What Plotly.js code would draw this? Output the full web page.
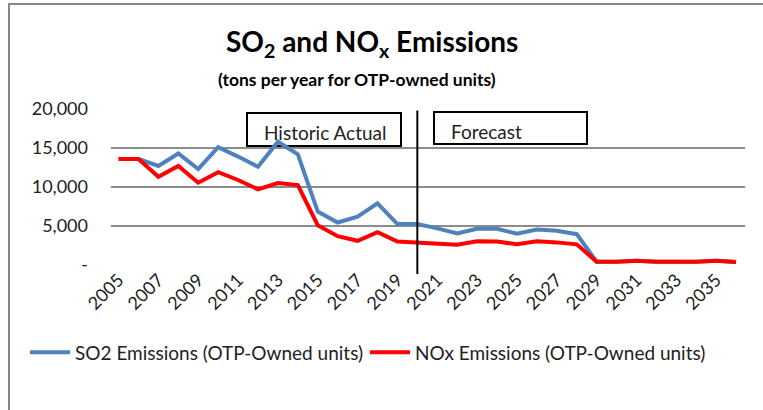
<!DOCTYPE html>
<html>
<head>
<meta charset="utf-8">
<script src="https://cdn.plot.ly/plotly-3.0.1.min.js"></script>
<style>
html,body{margin:0;padding:0;background:#fff;}
#wrap{position:relative;width:763px;height:410px;overflow:hidden;}
#chart{position:absolute;left:0;top:0;width:763px;height:410px;}
#frame{position:absolute;left:8px;top:3px;width:800px;height:450px;border-left:2px solid #888;border-top:2px solid #888;pointer-events:none;}
</style>
</head>
<body>
<div id="wrap"><div id="chart"></div><div id="frame"></div></div>
<script>
var years = [];
for (var y = 2005; y <= 2036; y++) years.push(y);
var so2 = [13600,13600,12700,14300,12300,15100,13900,12600,15800,14200,6850,5450,6200,7900,5250,5250,4700,4050,4650,4650,4000,4550,4400,3950,430,430,560,430,430,430,560,400];
var nox = [13600,13600,11300,12700,10550,11900,10900,9700,10500,10250,5100,3700,3100,4200,3000,2850,2750,2600,3050,3000,2650,3050,2900,2650,430,430,560,430,430,430,560,400];
var xTickVals = [2005,2007,2009,2011,2013,2015,2017,2019,2021,2023,2025,2027,2029,2031,2033,2035];
var yTickVals = [0,5000,10000,15000,20000];
var yTickText = ['-','5,000','10,000','15,000','20,000'];
var dividerYear = 2020;
var seriesNames = ['SO2 Emissions (OTP-Owned units)','NOx Emissions (OTP-Owned units)'];

var FONT = 'Lato, "Open Sans", sans-serif';
var traces = [
  {x: years, y: so2, type:'scatter', mode:'lines', name: seriesNames[0], legend:'legend', line:{color:'#4F81BD', width:4}},
  {x: years, y: nox, type:'scatter', mode:'lines', name: seriesNames[1], legend:'legend2', line:{color:'#FF0000', width:4}}
];
var legFont = {family:FONT, size:19, color:'#222'};
var layout = {
  width:763, height:410,
  margin:{l:111, r:18, t:109, b:145},
  paper_bgcolor:'#fff', plot_bgcolor:'#fff',
  font:{family:FONT, size:18, color:'#222'},
  showlegend:true,
  legend:{orientation:'h', x:(25-111)/634, xanchor:'left', y:-0.56, yanchor:'middle', font:legFont, itemwidth:40, bgcolor:'rgba(0,0,0,0)'},
  legend2:{orientation:'h', x:(365-111)/634, xanchor:'left', y:-0.56, yanchor:'middle', font:legFont, itemwidth:40, bgcolor:'rgba(0,0,0,0)'},
  xaxis:{range:[2004.62, 2036.45], tickvals:xTickVals, tickangle:-45, showgrid:false, zeroline:false,
         showline:false, ticks:'', tickfont:{family:FONT, size:18, color:'#222'}},
  yaxis:{range:[0,20000], tickvals:yTickVals, ticktext:yTickText, showgrid:true, gridcolor:'#8c8c8c', gridwidth:1.5,
         zeroline:false, showline:false, ticks:'', ticklabelstandoff:22, tickfont:{family:FONT, size:18, color:'#222'}},
  shapes:[
    {type:'line', xref:'x', yref:'paper', x0:dividerYear, x1:dividerYear, y0:-0.058, y1:0.99, line:{color:'#000', width:2}},
    {type:'rect', layer:'between', xref:'paper', yref:'paper', x0:(247-111)/634, x1:(401-111)/634, y0:(265-146)/156, y1:(265-113)/156, line:{color:'#000', width:2}, fillcolor:'#fff'},
    {type:'rect', layer:'between', xref:'paper', yref:'paper', x0:(434-111)/634, x1:(587-111)/634, y0:(265-144)/156, y1:(265-112)/156, line:{color:'#000', width:2}, fillcolor:'#fff'}
  ],
  annotations:[
    {text:'<b>SO<sub>2</sub> and NO<sub>x</sub> Emissions</b>', xref:'paper', yref:'paper', x:(372-111)/634, y:(265-43)/156, xanchor:'center', yanchor:'middle', showarrow:false, font:{family:FONT, size:28, color:'#000'}},
    {text:'<b>(tons per year for OTP-owned units)</b>', xref:'paper', yref:'paper', x:(357-111)/634, y:(265-79)/156, xanchor:'center', yanchor:'middle', showarrow:false, font:{family:FONT, size:17.5, color:'#000'}},
    {text:'Historic Actual', xref:'paper', yref:'paper', x:(262-111)/634, y:(265-132)/156, xanchor:'left', yanchor:'middle', showarrow:false, font:{family:FONT, size:19, color:'#222'}},
    {text:'Forecast', xref:'paper', yref:'paper', x:(449-111)/634, y:(265-131)/156, xanchor:'left', yanchor:'middle', showarrow:false, font:{family:FONT, size:19, color:'#222'}}
  ]
};
Plotly.newPlot('chart', traces, layout, {displayModeBar:false, staticPlot:true});
</script>
</body>
</html>
